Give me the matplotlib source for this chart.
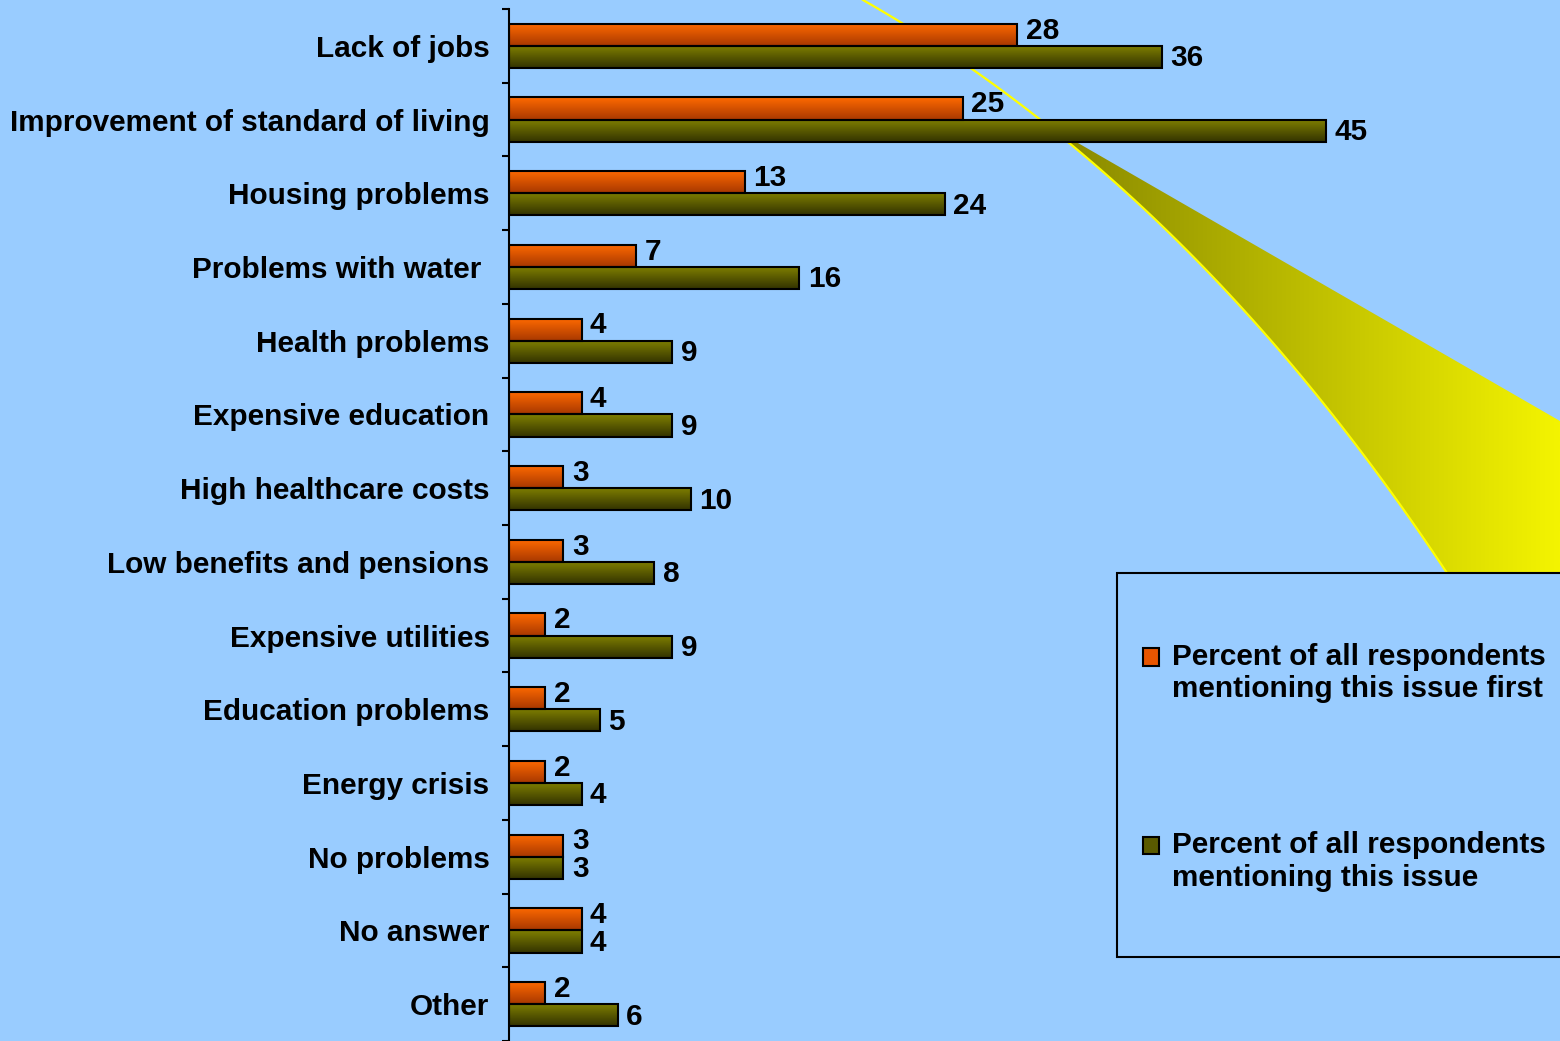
import numpy as np
import matplotlib
matplotlib.use("Agg")
import matplotlib.pyplot as plt
from matplotlib.patches import Patch, Polygon, Rectangle
from matplotlib.legend_handler import HandlerPatch

# datos
categorias = [
    "Lack of jobs",
    "Improvement of standard of living",
    "Housing problems",
    "Problems with water ",
    "Health problems",
    "Expensive education",
    "High healthcare costs",
    "Low benefits and pensions",
    "Expensive utilities",
    "Education problems",
    "Energy crisis",
    "No problems",
    "No answer",
    "Other",
]
primero = [28, 25, 13, 7, 4, 4, 3, 3, 2, 2, 2, 3, 4, 2]
todos = [36, 45, 24, 16, 9, 9, 10, 8, 9, 5, 4, 3, 4, 6]
leyenda = [
    "Percent of all respondents\nmentioning this issue first",
    "Percent of all respondents\nmentioning this issue",
]

FONDO = "#99ccff"
FS = 21.4
plt.rcParams["font.family"] = ["Liberation Sans", "DejaVu Sans"]
plt.rcParams["font.weight"] = "bold"

W, H = 1560, 1041
fig = plt.figure(figsize=(W / 100, H / 100), dpi=100, facecolor=FONDO)

# --- capa de fondo con el haz amarillo (decorativo) ---
bg = fig.add_axes([0, 0, 1, 1], zorder=0)
bg.set_xlim(0, W)
bg.set_ylim(H, 0)
bg.axis("off")

t = np.linspace(0, 1, 80)
p0, p1, p2 = np.array([863, 0]), np.array([1240, 215]), np.array([1520, 690])
curva = (1 - t)[:, None] ** 2 * p0 + 2 * ((1 - t) * t)[:, None] * p1 + t[:, None] ** 2 * p2
inicio = np.argmin(np.abs(curva[:, 0] - 1045))
borde = curva[inicio:]
poly = np.vstack([borde, [[W, 690], [W, 421], borde[0]]])
haz = Polygon(poly, closed=True, facecolor="none", edgecolor="none")
bg.add_patch(haz)
grad = np.linspace(0, 1, 256).reshape(1, -1)
cmap_haz = matplotlib.colors.LinearSegmentedColormap.from_list("haz", ["#848400", "#f4f400"])
im = bg.imshow(grad, extent=[1040, W, H, 0], aspect="auto", cmap=cmap_haz)
im.set_clip_path(haz)
bg.plot(curva[:, 0], curva[:, 1], color="#ffff00", lw=1.6)
bg.set_xlim(0, W)
bg.set_ylim(H, 0)

# --- grafico de barras ---
ax = fig.add_axes([509 / W, 0, 1 - 509 / W, 1032 / H], zorder=1)
ax.patch.set_alpha(0)

y = np.arange(len(categorias))
alto = 0.3
b1 = ax.barh(y - alto / 2, primero, height=alto, color="#e85500", edgecolor="black", lw=1.5, zorder=3)
b2 = ax.barh(y + alto / 2, todos, height=alto, color="#5a5a00", edgecolor="black", lw=1.5, zorder=3)

# degradado vertical en cada barra
cm_nar = matplotlib.colors.LinearSegmentedColormap.from_list("nar", ["#ff6a00", "#a83800"])
cm_oli = matplotlib.colors.LinearSegmentedColormap.from_list("oli", ["#808000", "#333300"])
vert = np.linspace(0, 1, 64).reshape(-1, 1)
for barras, cm in [(b1, cm_nar), (b2, cm_oli)]:
    for b in barras:
        x0, y0, w, h = b.get_x(), b.get_y(), b.get_width(), b.get_height()
        ax.imshow(vert, extent=[x0, x0 + w, y0 + h, y0], origin="upper",
                  aspect="auto", cmap=cm, zorder=2)
        b.set_facecolor("none")

# etiquetas de valores
for i in range(len(categorias)):
    ax.annotate(str(primero[i]), xy=(primero[i], y[i] - alto / 2), xytext=(6, 3),
                textcoords="offset points", va="center", ha="left", fontsize=FS, zorder=4)
    ax.annotate(str(todos[i]), xy=(todos[i], y[i] + alto / 2), xytext=(6, -1),
                textcoords="offset points", va="center", ha="left", fontsize=FS, zorder=4)

ax.set_xlim(0, 1051 / 18.15)
ax.set_ylim(len(categorias) - 0.5, -0.5)
ax.set_yticks(y, labels=categorias, fontsize=FS, fontweight="bold")
ax.set_yticks(np.arange(len(categorias) + 1) - 0.5, minor=True)
ax.tick_params(axis="y", which="major", length=0, pad=14)
ax.tick_params(axis="y", which="minor", length=5, width=1.5, direction="out")
ax.set_xticks([])
for lado in ["top", "right", "bottom"]:
    ax.spines[lado].set_visible(False)
ax.spines["left"].set_linewidth(1.5)

# --- leyenda ---
marco = Rectangle((1117 / W, 1 - 957 / H), 1, (957 - 573) / H, transform=fig.transFigure,
                  facecolor=FONDO, edgecolor="black", lw=1.5, zorder=2)
fig.patches.append(marco)


def cuadro_arriba(legend, orig_handle, xdescent, ydescent, width, height, fontsize):
    # el cuadrito se alinea con la primera linea del texto
    return Rectangle((-xdescent, -ydescent + 0.55 * fontsize), width, height)


manejadores = [Patch(facecolor="#e85500", edgecolor="black", lw=1.5),
               Patch(facecolor="#5a5a00", edgecolor="black", lw=1.5)]
fig.legend(manejadores, leyenda, loc="upper left", bbox_to_anchor=(1143 / W, 1 - 643 / H),
           frameon=False, fontsize=FS, labelspacing=4.3, handlelength=0.55, handleheight=0.55,
           handletextpad=0.42, borderpad=0, borderaxespad=0,
           handler_map={Patch: HandlerPatch(patch_func=cuadro_arriba)})

plt.savefig("out.png", dpi=100, facecolor=FONDO)
plt.close()
